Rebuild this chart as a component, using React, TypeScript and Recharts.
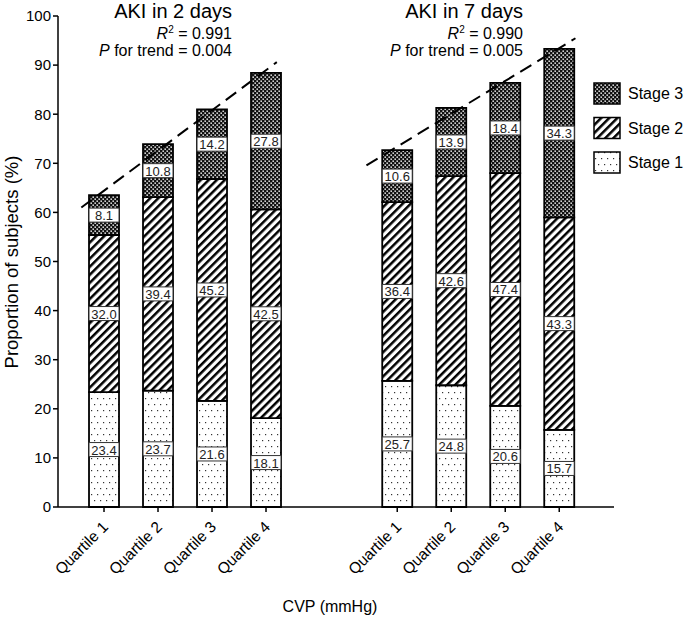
import React from 'react';
import { BarChart, Bar, XAxis, YAxis, ReferenceLine, LabelList, Customized } from 'recharts';

// ---------- data ----------
const quartiles = ['Quartile 1', 'Quartile 2', 'Quartile 3', 'Quartile 4'];
const stage1_2d = [23.4, 23.7, 21.6, 18.1];
const stage2_2d = [32.0, 39.4, 45.2, 42.5];
const stage3_2d = [8.1, 10.8, 14.2, 27.8];
const stage1_7d = [25.7, 24.8, 20.6, 15.7];
const stage2_7d = [36.4, 42.6, 47.4, 43.3];
const stage3_7d = [10.6, 13.9, 18.4, 34.3];
const yTicks = [0, 10, 20, 30, 40, 50, 60, 70, 80, 90, 100];
const panelTitles = ['AKI in 2 days', 'AKI in 7 days'];
const r2Values = ['0.991', '0.990'];
const pValues = ['0.004', '0.005'];
const stageNames = ['Stage 1', 'Stage 2', 'Stage 3'];

// ---------- layout ----------
const FONT = '"Liberation Sans", Arial, Helvetica, sans-serif';
const GROUP_OFFSET = 5.43;
const X_DOMAIN: [number, number] = [0.148, 10.444];
const TREND_SPAN = [
  [0.58, 4.2],
  [0.43, 4.3],
];

type Row = { x: number; label: string; s1: number; s2: number; s3: number };
const groups = [
  { s1: stage1_2d, s2: stage2_2d, s3: stage3_2d, offset: 0 },
  { s1: stage1_7d, s2: stage2_7d, s3: stage3_7d, offset: GROUP_OFFSET },
];
const rows: Row[] = [];
groups.forEach((g) => {
  quartiles.forEach((q, i) => {
    rows.push({ x: i + 1 + g.offset, label: q, s1: g.s1[i], s2: g.s2[i], s3: g.s3[i] });
  });
});
const tickXs = rows.map((r) => r.x);

// least-squares trend of totals per group
const trends = groups.map((g, gi) => {
  const xs = [1, 2, 3, 4];
  const ys = xs.map((_, i) => g.s1[i] + g.s2[i] + g.s3[i]);
  const mx = xs.reduce((a, b) => a + b, 0) / xs.length;
  const my = ys.reduce((a, b) => a + b, 0) / ys.length;
  let sxy = 0, sxx = 0;
  xs.forEach((x, i) => { sxy += (x - mx) * (ys[i] - my); sxx += (x - mx) * (x - mx); });
  const slope = sxy / sxx;
  const [a, b] = TREND_SPAN[gi];
  return [
    { x: a + g.offset, y: my + slope * (a - mx) },
    { x: b + g.offset, y: my + slope * (b - mx) },
  ];
});

const QuartileTick = (props: any) => {
  const { x, y, payload } = props;
  const row = rows.find((r) => Math.abs(r.x - payload.value) < 1e-6);
  return (
    <g transform={`translate(${x + 5},${y + 14})`}>
      <text transform="rotate(-45)" textAnchor="end" fontSize={15.5} fill="#000" fontFamily={FONT}>
        {row ? row.label : ''}
      </text>
    </g>
  );
};

const BoxLabel = (props: any) => {
  const { x, y, width, height, value } = props;
  if (value == null) return null;
  const cy = Number(y) + Number(height) / 2;
  return (
    <g>
      <rect x={x} y={cy - 7} width={width} height={14} fill="#fff" stroke="#333" strokeWidth={1} />
      <text x={Number(x) + Number(width) / 2} y={cy + 5} textAnchor="middle" fontSize={13} fill="#222" fontFamily={FONT}>
        {Number(value).toFixed(1)}
      </text>
    </g>
  );
};

const Annotations = () => {
  const rightEdges = [232, 523];
  const fills = ['url(#p3)', 'url(#p2)', 'url(#p1)'];
  const legendNames = [stageNames[2], stageNames[1], stageNames[0]];
  return (
    <g fontFamily={FONT} fill="#000">
      {panelTitles.map((t, i) => (
        <g key={t}>
          <text x={rightEdges[i]} y={18} textAnchor="end" fontSize={20}>{t}</text>
          <text x={rightEdges[i]} y={39} textAnchor="end" fontSize={16}>
            <tspan fontStyle="italic">R</tspan>
            <tspan fontSize={10} dy={-6}>2</tspan>
            <tspan dy={6}>{i === 0 ? ' =  ' : ' = '}{r2Values[i]}</tspan>
          </text>
          <text x={rightEdges[i]} y={56} textAnchor="end" fontSize={16}>
            <tspan fontStyle="italic">P</tspan>
            <tspan>{' for trend = ' + pValues[i]}</tspan>
          </text>
        </g>
      ))}
      <text transform="translate(18,262) rotate(-90)" textAnchor="middle" fontSize={18.5}>
        Proportion of subjects (%)
      </text>
      <text x={330} y={612} textAnchor="middle" fontSize={16}>CVP (mmHg)</text>
      {legendNames.map((n, i) => (
        <g key={n}>
          <rect x={594} y={83 + i * 34.5} width={26} height={21} fill={fills[i]} stroke="#000" strokeWidth={1.5} />
          <text x={628} y={99 + i * 34.5} fontSize={16}>{n}</text>
        </g>
      ))}
    </g>
  );
};

export default function App() {
  return (
    <div style={{ position: 'absolute', left: 0, top: 0, width: 685, height: 622, background: '#fff' }}>
      <BarChart
        width={685}
        height={622}
        data={rows}
        margin={{ top: 16, right: 71, bottom: 0, left: 0 }}
        style={{ fontFamily: FONT }}
      >
        <defs>
          <pattern id="p1" patternUnits="userSpaceOnUse" width={6} height={12}>
            <rect width={6} height={12} fill="#fff" />
            <rect x={1} y={2} width={1.2} height={1.2} fill="#333" />
            <rect x={4} y={8} width={1.2} height={1.2} fill="#333" />
          </pattern>
          <pattern id="p2" patternUnits="userSpaceOnUse" width={5.7} height={5.7} patternTransform="rotate(45)">
            <rect width={5.7} height={5.7} fill="#fff" />
            <rect x={0} y={0} width={2.5} height={5.7} fill="#000" />
          </pattern>
          <pattern id="p3" patternUnits="userSpaceOnUse" width={4} height={4}>
            <rect width={4} height={4} fill="#111" />
            <rect x={0.4} y={0.5} width={1.6} height={1.3} fill="#fff" />
            <rect x={2.4} y={2.5} width={1.6} height={1.3} fill="#fff" />
          </pattern>
        </defs>
        <XAxis
          type="number"
          dataKey="x"
          domain={X_DOMAIN}
          allowDataOverflow
          ticks={tickXs}
          interval={0}
          height={115}
          tickSize={5}
          tick={<QuartileTick />}
          axisLine={{ stroke: '#000', strokeWidth: 1.5 }}
          tickLine={{ stroke: '#000', strokeWidth: 1.5 }}
        />
        <YAxis
          type="number"
          domain={[0, 100]}
          ticks={yTicks}
          interval={0}
          width={58}
          tickSize={5}
          tick={{ fontSize: 15, fill: '#000', fontFamily: FONT }}
          axisLine={{ stroke: '#000', strokeWidth: 1.5 }}
          tickLine={{ stroke: '#000', strokeWidth: 1.5 }}
        />
        <Bar dataKey="s1" stackId="a" fill="url(#p1)" stroke="#000" strokeWidth={1.8} barSize={30} isAnimationActive={false}>
          <LabelList dataKey="s1" content={<BoxLabel />} />
        </Bar>
        <Bar dataKey="s2" stackId="a" fill="url(#p2)" stroke="#000" strokeWidth={1.8} barSize={30} isAnimationActive={false}>
          <LabelList dataKey="s2" content={<BoxLabel />} />
        </Bar>
        <Bar dataKey="s3" stackId="a" fill="url(#p3)" stroke="#000" strokeWidth={1.8} barSize={30} isAnimationActive={false}>
          <LabelList dataKey="s3" content={<BoxLabel />} />
        </Bar>
        {trends.map((seg, i) => (
          <ReferenceLine
            key={i}
            segment={seg}
            stroke="#000"
            strokeWidth={2}
            strokeDasharray="13 7"
            ifOverflow="visible"
          />
        ))}
        <Customized component={Annotations} />
      </BarChart>
    </div>
  );
}
